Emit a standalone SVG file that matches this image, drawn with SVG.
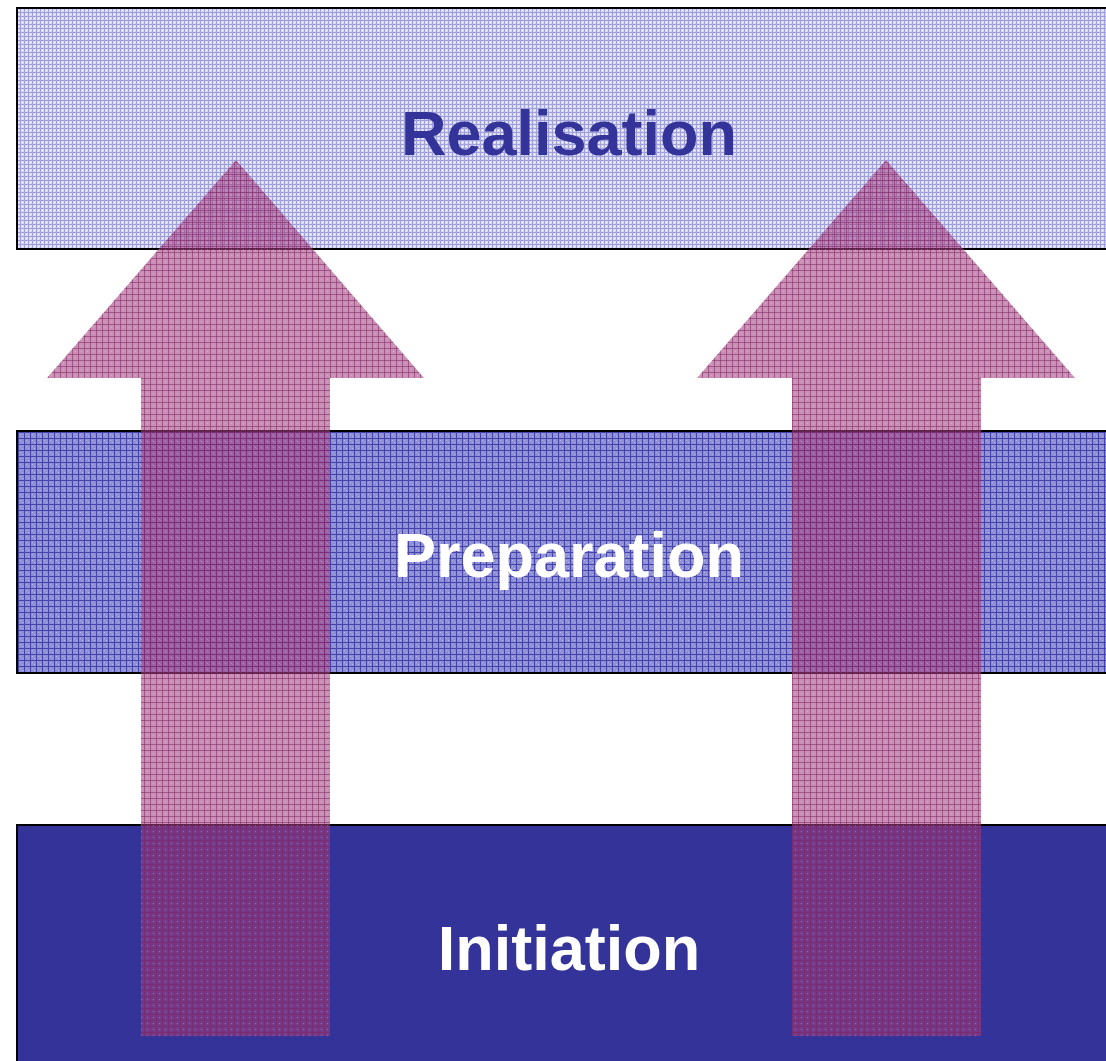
<svg xmlns="http://www.w3.org/2000/svg" width="1106" height="1061" viewBox="0 0 1106 1061">
<defs>
<pattern id="pLight" width="4" height="4" patternUnits="userSpaceOnUse">
<rect width="4" height="4" fill="#d8d8f0"/>
<rect width="4" height="1" fill="#a0a0da"/>
<rect width="1" height="4" fill="#a0a0da"/>
<rect x="2" y="2" width="1" height="1" fill="#ffffff"/>
</pattern>
<pattern id="pMid" width="6" height="6" patternUnits="userSpaceOnUse">
<rect width="6" height="6" fill="#8e8ed6"/>
<rect x="2" y="2" width="1" height="1" fill="#b4b4e6"/>
<rect x="4" y="4" width="1" height="1" fill="#b4b4e6"/>
<rect width="6" height="1" fill="#4444aa"/>
<rect width="1" height="6" fill="#4444aa"/>
</pattern>
<pattern id="pArrow" width="6" height="6" patternUnits="userSpaceOnUse">
<rect width="6" height="6" fill="#a0407e" fill-opacity="0.58"/>
<rect x="3" y="3" width="1" height="1" fill="#ffffff" fill-opacity="0.25"/>
<rect width="6" height="1" fill="#802060" fill-opacity="0.5"/>
<rect width="1" height="6" fill="#802060" fill-opacity="0.5"/>
</pattern>
<style>
.box{stroke:#000;stroke-width:2}
.lbl{font-family:"Liberation Sans",Arial,sans-serif;font-weight:bold;font-size:63px;text-anchor:middle}
.arrow{fill:url(#pArrow)}
</style>
</defs>
<rect width="1106" height="1061" fill="#ffffff"/>
<g id="realisation">
<rect class="box" x="17" y="8" width="1100" height="241" fill="url(#pLight)"/>
<text class="lbl" x="569" y="155" fill="#333399">Realisation</text>
</g>
<g id="preparation">
<rect class="box" x="17" y="431" width="1100" height="242" fill="url(#pMid)"/>
<text class="lbl" x="569" y="577" fill="#ffffff">Preparation</text>
</g>
<g id="initiation">
<rect class="box" x="17" y="825" width="1100" height="250" fill="#333399"/>
<text class="lbl" x="569" y="970" fill="#ffffff">Initiation</text>
</g>
<g id="connectors">
<polygon class="arrow" points="236,160 424,378 330,378 330,1036 141,1036 141,378 47,378"/>
<polygon class="arrow" points="886,160 1075,378 981,378 981,1036 792,1036 792,378 697,378"/>
</g>
</svg>
